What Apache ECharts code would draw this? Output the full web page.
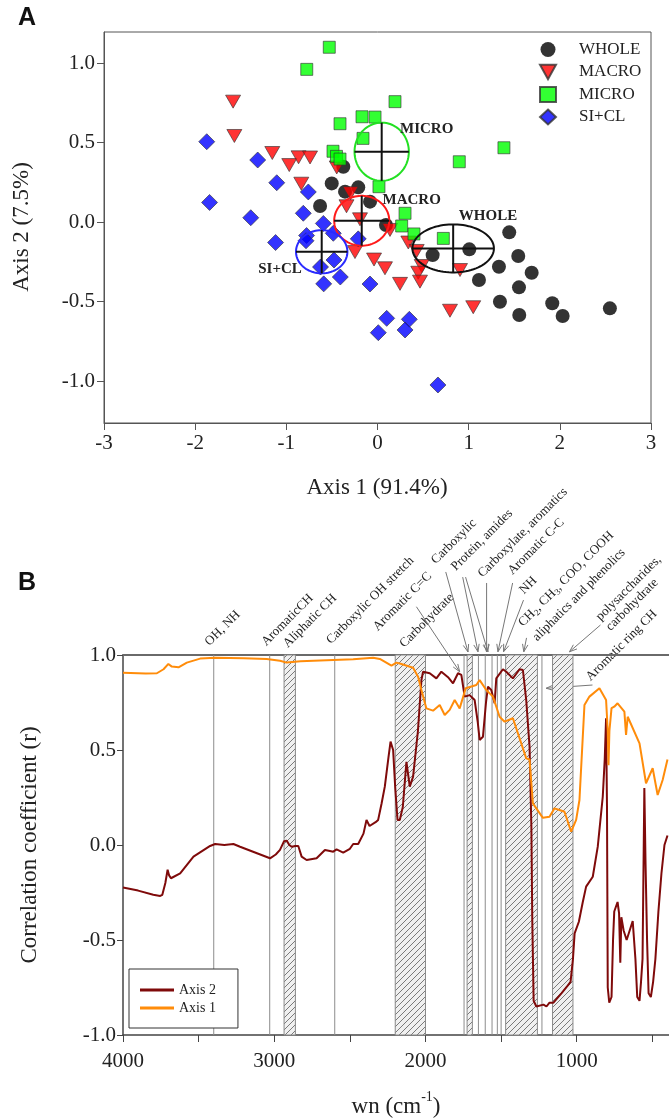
<!DOCTYPE html>
<html>
<head>
<meta charset="utf-8">
<script src="https://cdn.jsdelivr.net/npm/echarts@6/dist/echarts.min.js"></script>
<style>
  html, body { margin: 0; padding: 0; background: #fff; }
  #main { width: 669px; height: 1118px; }
</style>
</head>
<body>
<div id="main"></div>
<script>
// ---- panel A : PCA scores (Axis 1, Axis 2) ----
const wholePts = [
  [-0.375, 0.348], [-0.502, 0.243], [-0.211, 0.218], [-0.356, 0.191], [-0.082, 0.128],
  [-0.630, 0.101], [0.093, -0.019], [0.605, -0.208], [1.007, -0.172], [1.445, -0.065],
  [1.544, -0.214], [1.332, -0.281], [1.691, -0.319], [1.113, -0.365], [1.552, -0.411],
  [1.343, -0.501], [1.917, -0.511], [2.549, -0.543], [1.555, -0.585], [2.031, -0.591]
];
const macroPts = [
  [-1.584, 0.757], [-1.570, 0.541], [-1.154, 0.434], [-0.968, 0.358], [-0.866, 0.407],
  [-0.740, 0.406], [-0.836, 0.241], [-0.447, 0.343], [-0.296, 0.181], [-0.340, 0.099],
  [-0.192, 0.017], [0.137, -0.050], [0.338, -0.129], [0.430, -0.182], [-0.247, -0.189],
  [-0.038, -0.236], [0.082, -0.291], [0.485, -0.277], [0.447, -0.319], [0.466, -0.375],
  [0.247, -0.389], [0.905, -0.302], [0.795, -0.558], [1.050, -0.536]
];
const microPts = [
  [-0.529, 1.099], [-0.776, 0.960], [0.192, 0.757], [-0.411, 0.618], [-0.170, 0.662],
  [-0.027, 0.660], [-0.159, 0.526], [-0.488, 0.445], [-0.450, 0.413], [-0.411, 0.396],
  [0.016, 0.222], [0.302, 0.055], [0.265, -0.025], [0.400, -0.075], [0.722, -0.103],
  [0.897, 0.379], [1.387, 0.467]
];
const siclPts = [
  [-1.873, 0.505], [-1.314, 0.390], [-1.105, 0.247], [-0.759, 0.189], [-1.842, 0.123],
  [-1.390, 0.027], [-0.814, 0.055], [-0.594, -0.009], [-0.778, -0.085], [-0.784, -0.118],
  [-0.485, -0.071], [-1.118, -0.129], [-0.211, -0.106], [-0.477, -0.239], [-0.625, -0.283],
  [-0.408, -0.346], [-0.590, -0.389], [-0.082, -0.390], [0.101, -0.606], [0.349, -0.612],
  [0.009, -0.696], [0.302, -0.679], [0.663, -1.025]
];
const groupNames = ['WHOLE', 'MACRO', 'MICRO', 'SI+CL'];
// centroid x, centroid y, half width, half height (axis units)
const groupEllipses = [
  [0.830, -0.166, 0.447, 0.151],
  [-0.173, 0.008, 0.302, 0.157],
  [0.046, 0.442, 0.298, 0.183],
  [-0.612, -0.187, 0.282, 0.136]
];
const groupLabelAt = [[1.212, 0.038], [0.375, 0.138], [0.539, 0.583], [-1.069, -0.296]];
const yTicksA = [-1, -0.5, 0, 0.5, 1];

// ---- panel B : correlation with wavenumber ----
const wnTicks = [4000, 3500, 3000, 2500, 2000, 1500, 1000, 500];
const wnLabels = [4000, 3000, 2000, 1000];
const axis2Curve = [
  [4000, -0.224], [3900, -0.24], [3800, -0.262], [3754, -0.268], [3740, -0.262], [3720, -0.2],
  [3705, -0.13], [3695, -0.16], [3683, -0.175], [3622, -0.149], [3534, -0.061], [3424, -0.005],
  [3391, 0.005], [3330, 0.0], [3270, 0.005], [3226, -0.009], [3028, -0.07], [2990, -0.05],
  [2962, -0.026], [2935, 0.02], [2918, 0.023], [2900, 0.0], [2885, -0.009], [2860, -0.005],
  [2841, -0.005], [2819, -0.061], [2786, -0.079], [2720, -0.07], [2665, -0.026], [2640, -0.03],
  [2610, -0.035], [2588, -0.023], [2544, -0.04], [2500, -0.02], [2478, 0.005], [2445, 0.005],
  [2410, 0.06], [2390, 0.132], [2370, 0.1], [2357, 0.096], [2330, 0.12], [2313, 0.132],
  [2290, 0.22], [2269, 0.307], [2245, 0.46], [2231, 0.544], [2214, 0.5], [2200, 0.3],
  [2185, 0.132], [2170, 0.132], [2150, 0.2], [2126, 0.438], [2104, 0.307], [2082, 0.36],
  [2050, 0.6], [2027, 0.868], [2016, 0.912], [1972, 0.904], [1928, 0.877], [1895, 0.912],
  [1851, 0.883], [1818, 0.851], [1785, 0.904], [1763, 0.895], [1741, 0.781], [1708, 0.789],
  [1675, 0.763], [1655, 0.65], [1642, 0.553], [1620, 0.57], [1600, 0.75], [1587, 0.833],
  [1565, 0.816], [1543, 0.746], [1532, 0.877], [1488, 0.925], [1466, 0.912], [1422, 0.877],
  [1378, 0.925], [1356, 0.921], [1334, 0.763], [1312, 0.517], [1300, 0.1], [1294, -0.395],
  [1285, -0.82], [1267, -0.85], [1220, -0.84], [1200, -0.85], [1180, -0.83], [1154, -0.83],
  [1100, -0.78], [1060, -0.74], [1041, -0.72], [1025, -0.6], [1014, -0.465], [986, -0.404],
  [960, -0.3], [938, -0.219], [894, -0.167], [861, -0.009], [828, 0.254], [815, 0.45],
  [806, 0.667], [800, 0.2], [795, -0.75], [785, -0.83], [770, -0.8], [760, -0.5],
  [752, -0.35], [740, -0.34], [730, -0.3], [720, -0.36], [712, -0.62], [705, -0.38],
  [690, -0.45], [670, -0.5], [650, -0.45], [630, -0.4], [612, -0.6], [600, -0.8],
  [585, -0.82], [575, -0.72], [565, -0.6], [553, 0.3], [545, -0.1], [535, -0.5],
  [525, -0.78], [510, -0.8], [495, -0.72], [480, -0.6], [460, -0.35], [440, -0.15],
  [420, 0.0], [400, 0.05]
];
const axis1Curve = [
  [4000, 0.907], [3850, 0.903], [3776, 0.904], [3732, 0.925], [3700, 0.953], [3677, 0.939],
  [3633, 0.935], [3578, 0.96], [3490, 0.981], [3391, 0.986], [3200, 0.983], [3050, 0.979],
  [2962, 0.97], [2918, 0.96], [2826, 0.967], [2610, 0.974], [2478, 0.977], [2346, 0.986],
  [2302, 0.979], [2225, 0.944], [2192, 0.96], [2170, 0.955], [2082, 0.933], [2049, 0.886],
  [2027, 0.816], [1994, 0.719], [1950, 0.707], [1906, 0.737], [1873, 0.684], [1840, 0.711],
  [1807, 0.763], [1774, 0.719], [1734, 0.825], [1664, 0.842], [1642, 0.868], [1598, 0.816],
  [1554, 0.781], [1510, 0.675], [1477, 0.649], [1422, 0.667], [1334, 0.456], [1312, 0.45],
  [1290, 0.219], [1224, 0.143], [1180, 0.149], [1147, 0.193], [1114, 0.184], [1081, 0.175],
  [1037, 0.07], [1004, 0.132], [982, 0.237], [949, 0.737], [916, 0.781], [850, 0.825],
  [806, 0.763], [795, 0.6], [790, 0.42], [784, 0.6], [770, 0.72], [752, 0.728], [730, 0.746],
  [685, 0.702], [674, 0.579], [663, 0.675], [585, 0.535], [542, 0.325], [498, 0.404],
  [465, 0.263], [432, 0.342], [400, 0.45]
];
const markerLines = [3400, 3030, 2600, 1745, 1650, 1605, 1560, 1525, 1500, 1230];
const hatchBands = [[2935, 2860], [2200, 2000], [1725, 1690], [1470, 1260], [1160, 1025]];

// band labels above the plot (anchor in wn / r units)
const bandLabels = [
  { text: 'OH, NH', at: [3413, 1.035] },
  { text: 'AromaticCH', at: [3039, 1.035] },
  { text: 'Aliphatic CH', at: [2896, 1.026] },
  { text: 'Carboxylic OH stretch', at: [2610, 1.044] },
  { text: 'Aromatic C=C', at: [2302, 1.114] },
  { text: 'Carbohydrate', at: [2126, 1.026] },
  { text: 'Carboxylic', at: [1917, 1.465] },
  { text: 'Protein, amides', at: [1785, 1.43] },
  { text: 'Carboxylate, aromatics', at: [1609, 1.395] },
  { text: 'Aromatic C-C', at: [1411, 1.409] },
  { text: 'NH', at: [1334, 1.307] },
  { text: '{n|CH}{s|2}{n|, CH}{s|3}{n|, COO, COOH}', at: [1334, 1.13] },
  { text: 'aliphatics and phenolics', at: [1246, 1.06] },
  { text: 'polysaccharides,', at: [828, 1.167] },
  { text: 'carbohydrate', at: [762, 1.114] },
  { text: 'Aromatic ring CH', at: [894, 0.851] }
];
const leaderLines = [
  [[2060, 1.254], [1774, 0.912]],
  [[1866, 1.437], [1719, 1.016]],
  [[1754, 1.41], [1653, 1.017]],
  [[1735, 1.41], [1587, 1.017]],
  [[1596, 1.379], [1596, 1.016]],
  [[1424, 1.379], [1521, 1.017]],
  [[1352, 1.289], [1484, 1.017]],
  [[1332, 1.09], [1350, 1.017]],
  [[843, 1.158], [1048, 1.017]],
  [[896, 0.842], [1202, 0.825]]
];

const serif = '"Liberation Serif", "Times New Roman", serif';

// hatch fill for the shaded bands
const hatch = document.createElement('canvas');
hatch.width = 6; hatch.height = 6;
(function () {
  const g = hatch.getContext('2d');
  g.fillStyle = '#f0f0f0'; g.fillRect(0, 0, 6, 6);
  g.strokeStyle = '#7a7a7a'; g.lineWidth = 1;
  g.beginPath();
  g.moveTo(0, 6); g.lineTo(6, 0);
  g.moveTo(-3, 3); g.lineTo(3, -3);
  g.moveTo(3, 9); g.lineTo(9, 3);
  g.stroke();
})();

const ellipseColors = ['#111', '#ff1a1a', '#22e022', '#2a2aff'];
const triDown = 'path://M0,0L10,0L5,9Z';

const option = {
  animation: false,
  backgroundColor: '#fff',
  textStyle: { fontFamily: serif },
  grid: [
    { left: 104, top: 32, width: 547, height: 391, show: true, borderColor: '#555', borderWidth: 1, backgroundColor: 'transparent' },
    { left: 123, top: 655, width: 547, height: 380 }
  ],
  xAxis: [
    {
      gridIndex: 0, type: 'value', min: -3, max: 3, interval: 1,
      axisLine: { onZero: false, lineStyle: { color: '#555' } },
      axisTick: { inside: false, length: 7, lineStyle: { color: '#555' } },
      axisLabel: { color: '#222', fontSize: 21, fontFamily: serif, margin: 10 },
      splitLine: { show: false }
    },
    {
      gridIndex: 1, type: 'value', min: 390, max: 4000, inverse: true,
      axisLine: { onZero: false, lineStyle: { color: '#444', width: 1.5 } },
      axisTick: { inside: false, length: 7, customValues: wnTicks, lineStyle: { color: '#444' } },
      axisLabel: { color: '#222', fontSize: 21, fontFamily: serif, margin: 16, customValues: wnLabels, formatter: v => String(v) },
      splitLine: { show: false }
    },
    {
      // top frame line of panel B
      gridIndex: 1, type: 'value', position: 'top', min: 390, max: 4000, inverse: true,
      axisLine: { show: true, onZero: false, lineStyle: { color: '#6a6a6a', width: 1.8 } },
      axisTick: { show: false }, axisLabel: { show: false }, splitLine: { show: false }
    }
  ],
  yAxis: [
    {
      gridIndex: 0, type: 'value', min: -1.264, max: 1.195,
      axisLine: { onZero: false, lineStyle: { color: '#555' } },
      axisTick: { inside: false, length: 7, customValues: yTicksA, lineStyle: { color: '#555' } },
      axisLabel: { color: '#222', fontSize: 21, fontFamily: serif, margin: 9, customValues: yTicksA, formatter: v => v.toFixed(1) },
      splitLine: { show: false }
    },
    {
      gridIndex: 1, type: 'value', min: -1, max: 1, interval: 0.5,
      axisLine: { onZero: false, lineStyle: { color: '#444', width: 1.5 } },
      axisTick: { inside: false, length: 6, lineStyle: { color: '#444' } },
      axisLabel: { color: '#222', fontSize: 21, fontFamily: serif, margin: 7, formatter: v => v.toFixed(1) },
      splitLine: { show: false }
    }
  ],
  legend: [
    {
      data: [
        { name: 'WHOLE', icon: 'circle' },
        { name: 'MACRO', icon: triDown },
        { name: 'MICRO', icon: 'rect' },
        { name: 'SI+CL', icon: 'diamond' }
      ],
      orient: 'vertical', left: 539, top: 41, padding: 0, itemGap: 5.5, itemWidth: 16, itemHeight: 15,
      textStyle: { fontFamily: serif, fontSize: 17, lineHeight: 17, color: '#222', padding: [0, 0, 0, 18] }
    },
    {
      data: ['Axis 2', 'Axis 1'],
      orient: 'vertical', left: 129, top: 969, icon: 'rect', itemWidth: 34, itemHeight: 3, itemGap: 2,
      padding: [13, 22, 12, 11], borderColor: '#333', borderWidth: 1, backgroundColor: '#fff',
      textStyle: { fontFamily: serif, fontSize: 14, lineHeight: 16, color: '#222' }
    }
  ],
  series: [
    {
      name: 'WHOLE', type: 'scatter', xAxisIndex: 0, yAxisIndex: 0, data: wholePts,
      symbol: 'circle', symbolSize: 14, itemStyle: { color: '#000' }
    },
    {
      name: 'MACRO', type: 'scatter', xAxisIndex: 0, yAxisIndex: 0, data: macroPts,
      symbol: triDown, symbolSize: [15, 13], itemStyle: { color: '#ff0000', borderColor: '#333', borderWidth: 0.8 }
    },
    {
      name: 'MICRO', type: 'scatter', xAxisIndex: 0, yAxisIndex: 0, data: microPts,
      symbol: 'rect', symbolSize: 12, itemStyle: { color: '#00ff00', borderColor: '#333', borderWidth: 0.8 }
    },
    {
      name: 'SI+CL', type: 'scatter', xAxisIndex: 0, yAxisIndex: 0, data: siclPts,
      symbol: 'diamond', symbolSize: 16, itemStyle: { color: '#0000ff', borderColor: '#333', borderWidth: 0.8 }
    },
    {
      type: 'custom', xAxisIndex: 0, yAxisIndex: 0, z: 5,
      data: groupEllipses,
      renderItem: function (params, api) {
        const i = params.dataIndex;
        const c = api.coord([api.value(0), api.value(1)]);
        const rx = api.size([api.value(2), 0])[0];
        const ry = api.size([0, api.value(3)])[1];
        const pts = [];
        for (let k = 0; k < 90; k++) {
          const a = k / 90 * Math.PI * 2;
          pts.push([c[0] + rx * Math.cos(a), c[1] + ry * Math.sin(a)]);
        }
        const lp = api.coord(groupLabelAt[i]);
        return {
          type: 'group',
          children: [
            { type: 'polygon', shape: { points: pts }, style: { fill: 'none', stroke: ellipseColors[i], lineWidth: 2 } },
            { type: 'line', shape: { x1: c[0] - rx, y1: c[1], x2: c[0] + rx, y2: c[1] }, style: { stroke: '#111', lineWidth: 2 } },
            { type: 'line', shape: { x1: c[0], y1: c[1] - ry, x2: c[0], y2: c[1] + ry }, style: { stroke: '#111', lineWidth: 2 } },
            {
              type: 'text', x: lp[0], y: lp[1],
              style: { text: groupNames[i], fill: '#222', font: 'bold 15px ' + serif, align: 'center', verticalAlign: 'middle' }
            }
          ]
        };
      }
    },
    {
      type: 'custom', xAxisIndex: 1, yAxisIndex: 1, z: 1, silent: true,
      data: hatchBands,
      encode: { x: [0, 1] },
      renderItem: function (params, api) {
        const p1 = api.coord([api.value(0), 1]);
        const p2 = api.coord([api.value(1), -1]);
        return {
          type: 'rect',
          shape: { x: Math.min(p1[0], p2[0]), y: p1[1], width: Math.abs(p2[0] - p1[0]), height: p2[1] - p1[1] },
          style: { fill: { image: hatch, repeat: 'repeat' }, stroke: '#8a8a8a', lineWidth: 1 }
        };
      }
    },
    {
      type: 'custom', xAxisIndex: 1, yAxisIndex: 1, z: 1, silent: true,
      data: markerLines.map(v => [v, 0]),
      renderItem: function (params, api) {
        const p1 = api.coord([api.value(0), 1]);
        const p2 = api.coord([api.value(0), -1]);
        return {
          type: 'line',
          shape: { x1: p1[0], y1: p1[1], x2: p2[0], y2: p2[1] },
          style: { stroke: '#8c8c8c', lineWidth: 1 }
        };
      }
    },
    {
      name: 'Axis 2', type: 'line', xAxisIndex: 1, yAxisIndex: 1, z: 3,
      data: axis2Curve, showSymbol: false, symbol: 'none',
      lineStyle: { color: '#7f0a0a', width: 2 }, itemStyle: { color: '#7f0a0a' }
    },
    {
      name: 'Axis 1', type: 'line', xAxisIndex: 1, yAxisIndex: 1, z: 4,
      data: axis1Curve, showSymbol: false, symbol: 'none',
      lineStyle: { color: '#ff8c0a', width: 2 }, itemStyle: { color: '#ff8c0a' }
    }
  ]
};

const chart = echarts.init(document.getElementById('main'));
chart.setOption(option);

// annotations: titles, panel letters, band labels and leader arrows
const toPx = p => chart.convertToPixel({ xAxisIndex: 1, yAxisIndex: 1 }, p);
const graphics = [
  { type: 'text', x: 18, y: 18, style: { text: 'A', font: 'bold 25px "Liberation Sans", Arial, sans-serif', fill: '#111', verticalAlign: 'middle' } },
  { type: 'text', x: 18, y: 583, style: { text: 'B', font: 'bold 25px "Liberation Sans", Arial, sans-serif', fill: '#111', verticalAlign: 'middle' } },
  { type: 'text', x: 22, y: 227, rotation: Math.PI / 2, style: { text: 'Axis 2 (7.5%)', font: '23px ' + serif, fill: '#222', align: 'center', verticalAlign: 'middle' } },
  { type: 'text', x: 377, y: 488, style: { text: 'Axis 1 (91.4%)', font: '23px ' + serif, fill: '#222', align: 'center', verticalAlign: 'middle' } },
  { type: 'text', x: 30, y: 845, rotation: Math.PI / 2, style: { text: 'Correlation coefficient (r)', font: '23px ' + serif, fill: '#222', align: 'center', verticalAlign: 'middle' } },
  {
    type: 'text', x: 396, y: 1104,
    style: {
      text: '{n|wn (cm}{s|-1}{n|)}', align: 'center', verticalAlign: 'middle',
      rich: {
        n: { fontFamily: serif, fontSize: 23, fill: '#222', verticalAlign: 'bottom', lineHeight: 28 },
        s: { fontFamily: serif, fontSize: 14, fill: '#222', verticalAlign: 'top', lineHeight: 28 }
      }
    }
  }
];
bandLabels.forEach(function (b) {
  const p = toPx(b.at);
  graphics.push({
    type: 'text', x: p[0], y: p[1], rotation: Math.PI / 4,
    style: {
      text: b.text, align: 'left', verticalAlign: 'bottom', font: '13px ' + serif, fill: '#222',
      rich: {
        n: { fontFamily: serif, fontSize: 13, fill: '#222' },
        s: { fontFamily: serif, fontSize: 9, fill: '#222', padding: [7, 0, 0, 0] }
      }
    }
  });
});
leaderLines.forEach(function (l) {
  const a = toPx(l[0]);
  const b = toPx(l[1]);
  const ang = Math.atan2(b[1] - a[1], b[0] - a[0]);
  const len = 8, spread = 0.35;
  graphics.push({ type: 'line', shape: { x1: a[0], y1: a[1], x2: b[0], y2: b[1] }, style: { stroke: '#777', lineWidth: 1 } });
  graphics.push({
    type: 'polyline',
    shape: {
      points: [
        [b[0] - len * Math.cos(ang - spread), b[1] - len * Math.sin(ang - spread)],
        [b[0], b[1]],
        [b[0] - len * Math.cos(ang + spread), b[1] - len * Math.sin(ang + spread)]
      ]
    },
    style: { stroke: '#777', lineWidth: 1, fill: 'none' }
  });
});
chart.setOption({ graphic: graphics });
</script>
</body>
</html>
